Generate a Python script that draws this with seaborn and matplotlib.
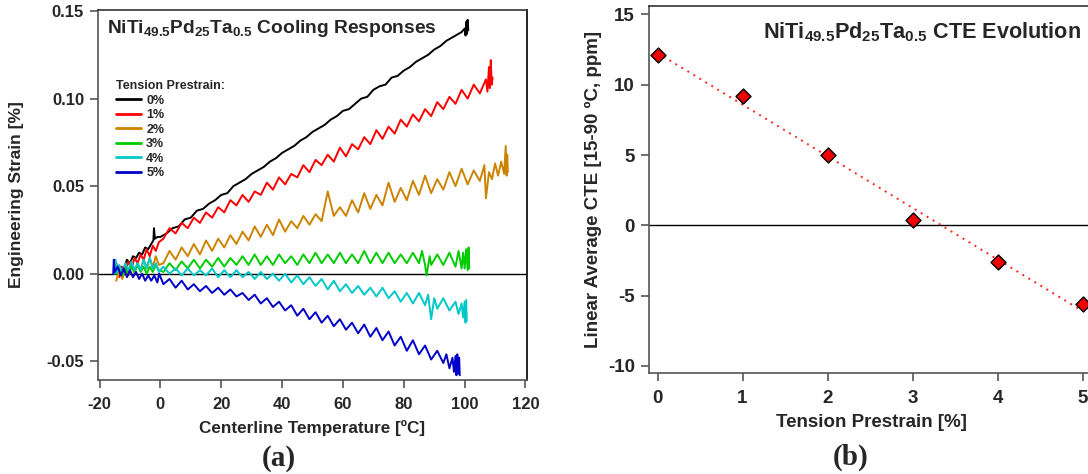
import numpy as np
import pandas as pd
import matplotlib
matplotlib.use("Agg")
import matplotlib.pyplot as plt
import seaborn as sns

# ---------------- data: panel (a) ----------------
prestrain_labels = ["0%", "1%", "2%", "3%", "4%", "5%"]
line_colors = ["#000000", "#ff0000", "#cc8400", "#00cc00", "#00c8c8", "#0000c8"]

t_0 = [-15, -14.5, -14, -13, -12, -11, -10, -9, -8, -7, -6, -5, -4, -3, -2.3, -2.1, -1.8, -1,
       0, 2, 4, 6, 8, 10, 12, 14, 16, 18, 20, 22, 24, 26, 28, 30, 32, 34, 36, 38, 40, 42, 44, 46,
       48, 50, 52, 54, 56, 58, 60, 62, 64, 66, 68, 70, 72, 74, 76, 78, 80, 82, 84, 86, 88, 90, 92,
       94, 96, 98, 99, 100, 100.3, 100.6, 100.8, 101, 101.2]
s_0 = [0.000, 0.006, 0.001, 0.004, 0.003, 0.008, 0.006, 0.010, 0.009, 0.012, 0.011, 0.015, 0.014,
       0.017, 0.019, 0.026, 0.020, 0.021,
       0.021, 0.023, 0.026, 0.027, 0.031, 0.032, 0.036, 0.037, 0.040, 0.042, 0.045, 0.046, 0.050,
       0.052, 0.054, 0.057, 0.059, 0.061, 0.064, 0.066, 0.069, 0.071, 0.073, 0.076, 0.078, 0.081,
       0.083, 0.085, 0.088, 0.090, 0.093, 0.094, 0.097, 0.100, 0.101, 0.105, 0.107, 0.108, 0.112,
       0.113, 0.116, 0.118, 0.121, 0.123, 0.125, 0.128, 0.130, 0.133, 0.135, 0.137, 0.138, 0.140,
       0.136, 0.144, 0.137, 0.145, 0.139]

t_1 = [-13.5, -12.5, -11.5, -10.5, -9.5, -8.5, -7.5, -6.5, -5.5, -4.5, -3.5, -2.5, -1.5, -0.5,
       1, 3, 5, 7, 9, 11, 13, 15, 17, 19, 21, 23, 25, 27, 29, 31, 33, 35, 37, 39, 41, 43, 45, 47,
       49, 51, 53, 55, 57, 59, 61, 63, 65, 67, 69, 71, 73, 75, 77, 79, 81, 83, 85, 87, 89, 91, 93,
       95, 97, 99, 101, 103, 105, 107, 107.5, 108, 108.3, 108.6, 108.9, 109.2]
s_1 = [-0.002, 0.004, 0.001, 0.007, 0.003, 0.009, 0.006, 0.011, 0.008, 0.014, 0.010, 0.016, 0.013,
       0.018,
       0.020, 0.026, 0.023, 0.029, 0.026, 0.032, 0.029, 0.035, 0.032, 0.038, 0.035, 0.042, 0.039,
       0.045, 0.041, 0.047, 0.045, 0.052, 0.048, 0.055, 0.051, 0.057, 0.055, 0.062, 0.058, 0.065,
       0.062, 0.068, 0.064, 0.072, 0.067, 0.074, 0.071, 0.078, 0.074, 0.082, 0.077, 0.084, 0.080,
       0.088, 0.084, 0.091, 0.087, 0.094, 0.090, 0.098, 0.094, 0.101, 0.097, 0.105, 0.100, 0.108,
       0.103, 0.111, 0.104, 0.118, 0.106, 0.122, 0.108, 0.112]

t_2 = [-14.5, -13.5, -12.5, -11.5, -10.5, -9.5, -8.5, -7.5, -6.5, -5.5, -4.5, -3.5, -2.5, -1.5, -0.5,
       1, 3, 5, 7, 9, 11, 13, 15, 17, 19, 21, 23, 25, 27, 29, 31, 33, 35, 37, 39, 41, 43, 45, 47,
       49, 51, 53, 55, 57, 59, 61, 63, 65, 67, 69, 71, 73, 75, 77, 79, 81, 83, 85, 87, 89, 91, 93,
       95, 97, 99, 101, 103, 105, 106.5, 107, 108, 109, 110, 111, 112, 113, 113.5, 113.8, 114, 114.2]
s_2 = [-0.004, 0.002, -0.003, 0.003, -0.001, 0.005, 0.000, 0.006, 0.002, 0.008, 0.003, 0.009, 0.004,
       0.010, 0.005,
       0.006, 0.013, 0.008, 0.015, 0.010, 0.017, 0.011, 0.019, 0.013, 0.020, 0.015, 0.022, 0.017,
       0.024, 0.019, 0.027, 0.021, 0.028, 0.022, 0.031, 0.024, 0.030, 0.026, 0.033, 0.028, 0.034,
       0.030, 0.047, 0.033, 0.038, 0.033, 0.042, 0.035, 0.046, 0.037, 0.045, 0.039, 0.052, 0.041,
       0.049, 0.042, 0.053, 0.045, 0.056, 0.046, 0.054, 0.048, 0.058, 0.050, 0.060, 0.051, 0.059,
       0.053, 0.062, 0.043, 0.058, 0.054, 0.063, 0.056, 0.064, 0.057, 0.073, 0.056, 0.068, 0.058]

t_3 = [-14.5, -13.5, -12.5, -11.5, -10.5, -9.5, -8.5, -7.5, -6.5, -5.5, -4.5, -3.5, -2.5, -1.5, -0.5,
       1, 3, 5, 7, 9, 11, 13, 15, 17, 19, 21, 23, 25, 27, 29, 31, 33, 35, 37, 39, 41, 43, 45, 47,
       49, 51, 53, 55, 57, 59, 61, 63, 65, 67, 69, 71, 73, 75, 77, 79, 81, 83, 85, 86, 87, 87.5,
       88.5, 89, 91, 93, 95, 97, 98, 99, 99.5, 100, 100.5, 101, 101.3, 101.5]
s_3 = [0.000, 0.004, -0.001, 0.003, 0.000, 0.004, 0.001, 0.005, 0.001, 0.004, 0.000, 0.004, 0.001,
       0.005, 0.002,
       0.001, 0.006, 0.002, 0.007, 0.003, 0.008, 0.003, 0.008, 0.004, 0.009, 0.004, 0.009, 0.005,
       0.010, 0.005, 0.011, 0.005, 0.010, 0.005, 0.011, 0.006, 0.010, 0.005, 0.011, 0.006, 0.012,
       0.006, 0.011, 0.006, 0.012, 0.006, 0.011, 0.006, 0.013, 0.006, 0.012, 0.006, 0.012, 0.006,
       0.011, 0.006, 0.012, 0.006, 0.013, 0.005, -0.001, 0.010, 0.005, 0.011, 0.005, 0.012, 0.004,
       0.013, 0.003, 0.012, 0.003, 0.014, 0.002, 0.015, 0.003]

t_4 = [-15, -14.7, -14.3, -13.5, -12.5, -11.5, -10.5, -9.5, -8.5, -7.5, -6.5, -5.5, -4.5, -3.5, -2.5,
       -1.5, -0.5, 1, 3, 5, 7, 9, 11, 13, 15, 17, 19, 21, 23, 25, 27, 29, 31, 33, 35, 37, 39, 41,
       43, 45, 47, 49, 51, 53, 55, 57, 59, 61, 63, 65, 67, 69, 71, 73, 75, 77, 79, 81, 83, 85, 87,
       88, 89, 90, 91, 93, 95, 97, 98, 99, 99.5, 100, 100.3, 100.5, 100.7]
s_4 = [0.000, 0.008, 0.001, 0.005, 0.001, 0.006, 0.002, 0.007, 0.002, 0.006, 0.002, 0.008, 0.003,
       0.009, 0.003, 0.006, 0.001,
       0.004, 0.000, 0.003, -0.001, 0.003, -0.001, 0.002, -0.001, 0.003, -0.002, 0.002, -0.002,
       0.002, -0.002, 0.001, -0.003, 0.001, -0.003, 0.000, -0.004, 0.000, -0.005, -0.001, -0.006,
       -0.002, -0.007, -0.003, -0.009, -0.004, -0.010, -0.006, -0.011, -0.007, -0.012, -0.008,
       -0.013, -0.008, -0.014, -0.010, -0.016, -0.011, -0.017, -0.011, -0.018, -0.012, -0.026,
       -0.014, -0.020, -0.014, -0.021, -0.016, -0.023, -0.017, -0.025, -0.016, -0.028, -0.015, -0.027]

t_5 = [-15.5, -15.3, -15, -14, -13, -12, -11, -10, -9, -8, -7, -6, -5, -4, -3, -2, -1, -0.4,
       1, 3, 5, 7, 9, 11, 13, 15, 17, 19, 21, 23, 25, 27, 29, 31, 33, 35, 37, 39, 41, 43, 45, 47,
       49, 51, 53, 55, 57, 59, 61, 63, 65, 67, 69, 71, 73, 75, 77, 79, 81, 83, 85, 87, 89, 91, 93,
       94, 95, 96, 96.5, 97, 97.3, 97.6, 97.9, 98.2, 98.4]
s_5 = [0.000, 0.008, 0.001, 0.004, -0.001, 0.003, -0.002, 0.002, -0.002, 0.001, -0.003, 0.000,
       -0.004, -0.001, -0.004, -0.001, -0.005, 0.000,
       -0.006, -0.003, -0.008, -0.004, -0.009, -0.006, -0.010, -0.007, -0.011, -0.008, -0.012,
       -0.009, -0.013, -0.011, -0.015, -0.012, -0.017, -0.014, -0.019, -0.016, -0.021, -0.018,
       -0.024, -0.020, -0.026, -0.022, -0.028, -0.024, -0.030, -0.026, -0.032, -0.028, -0.034,
       -0.029, -0.036, -0.031, -0.038, -0.033, -0.041, -0.036, -0.044, -0.038, -0.046, -0.041,
       -0.049, -0.044, -0.051, -0.046, -0.054, -0.048, -0.056, -0.047, -0.058, -0.046, -0.057,
       -0.048, -0.058]

temps = [t_0, t_1, t_2, t_3, t_4, t_5]
strains = [s_0, s_1, s_2, s_3, s_4, s_5]

# ---------------- data: panel (b) ----------------
tension_prestrain = [0, 1, 2, 3, 4, 5]
cte_values = [12.1, 9.2, 5.0, 0.4, -2.6, -5.6]

# ---------------- styling ----------------
sns.set_theme(style="ticks")
plt.rcParams["font.family"] = ["Liberation Sans", "DejaVu Sans"]
plt.rcParams["font.weight"] = "bold"
plt.rcParams["axes.labelweight"] = "bold"
plt.rcParams["axes.unicode_minus"] = False
plt.rcParams["mathtext.fontset"] = "custom"
plt.rcParams["mathtext.bf"] = "Liberation Sans:bold"
plt.rcParams["mathtext.rm"] = "Liberation Sans:bold"

frames = []
for lab, t, s in zip(prestrain_labels, temps, strains):
    frames.append(pd.DataFrame({"T": t, "strain": s, "prestrain": lab}))
df = pd.concat(frames, ignore_index=True)

fig = plt.figure(figsize=(10.88, 4.74), dpi=100)
W, H = 1088, 474

def px_axes(l, t, r, b):
    return fig.add_axes([l / W, 1 - b / H, (r - l) / W, (b - t) / H])

spine_col = "#555555"

# ----- panel (a)
axa = px_axes(98, 10, 527, 380)
sns.lineplot(data=df, x="T", y="strain", hue="prestrain", palette=line_colors,
             hue_order=prestrain_labels, sort=False, estimator=None, units="prestrain",
             lw=1.4, ax=axa, legend=True)
axa.axhline(0, color="black", lw=1.0, zorder=0)
axa.set_xlim(-20.5, 120.5)
axa.set_ylim(-0.0607, 0.1506)
axa.set_xticks([-20, 0, 20, 40, 60, 80, 100, 120])
axa.set_yticks([-0.05, 0.00, 0.05, 0.10, 0.15])
axa.set_yticklabels(["-0.05", "0.00", "0.05", "0.10", "0.15"])
axa.set_xlabel("Centerline Temperature [ºC]", fontsize=12.3, fontweight="bold")
axa.set_ylabel("Engineering Strain [%]", fontsize=12.5, fontweight="bold")
axa.xaxis.set_label_coords(0.5, -0.108)
axa.yaxis.set_label_coords(-0.172, 0.5)
axa.text(0.022, 0.978, r"NiTi$_{\mathbf{49.5}}$Pd$_{\mathbf{25}}$Ta$_{\mathbf{0.5}}$ Cooling Responses",
         transform=axa.transAxes, fontsize=13.8, fontweight="bold", va="top", ha="left")
handles, labels = axa.get_legend_handles_labels()
for h in handles:
    h.set_linewidth(2.0)
leg = axa.legend(handles, labels, title="Tension Prestrain:", loc="upper left",
                 bbox_to_anchor=(0.041, 0.81), frameon=False, fontsize=9,
                 title_fontproperties={"weight": "bold", "size": 9}, alignment="left",
                 handlelength=2.0, handletextpad=0.45, labelspacing=0.2, borderpad=0.0,
                 borderaxespad=0.0)
for t in leg.get_texts():
    t.set_fontweight("bold")

# ----- panel (b)
axb = px_axes(649, 6, 1094, 373)
sns.regplot(x=tension_prestrain, y=cte_values, ci=None, marker="D", ax=axb,
            scatter_kws={"s": 58, "color": "#ee0000", "edgecolors": "black", "linewidths": 1.0,
                         "zorder": 3, "alpha": 1},
            line_kws={"color": "#ff2020", "ls": (0, (1, 2.6)), "lw": 1.4, "zorder": 2})
axb.axhline(0, color="black", lw=1.0, zorder=0)
axb.set_xlim(-0.1, 5.135)
axb.set_ylim(-10.5, 15.6)
axb.set_xticks([0, 1, 2, 3, 4, 5])
axb.set_yticks([-10, -5, 0, 5, 10, 15])
axb.set_xlabel("Tension Prestrain [%]", fontsize=13.5, fontweight="bold")
axb.set_ylabel("Linear Average CTE [15-90 ºC, ppm]", fontsize=13.5, fontweight="bold")
axb.xaxis.set_label_coords((871.5 - 649) / 445, -0.112)
axb.yaxis.set_label_coords(-0.105, 0.5)
axb.text(0.256, 0.96, r"NiTi$_{\mathbf{49.5}}$Pd$_{\mathbf{25}}$Ta$_{\mathbf{0.5}}$ CTE Evolution",
         transform=axb.transAxes, fontsize=15.6, fontweight="bold", va="top", ha="left")

for ax, fs, pd_ in ((axa, 12, 6), (axb, 13.5, 6)):
    for side in ("top", "right"):
        ax.spines[side].set_visible(True)
    for sp in ax.spines.values():
        sp.set_color(spine_col)
        sp.set_linewidth(1.2)
    ax.tick_params(axis="both", which="major", direction="out", length=6, width=1.2,
                   color=spine_col, labelsize=fs, top=False, right=False)
    ax.tick_params(axis="x", pad=pd_)
    ax.tick_params(axis="y", pad=4)
    for lbl in ax.get_xticklabels() + ax.get_yticklabels():
        lbl.set_fontweight("bold")
axa.spines["right"].set_color("black")
axa.spines["top"].set_color("#333333")
axb.spines["top"].set_color("#333333")

fig.text(278.6 / W, 1 - 458 / H, "(a)", fontsize=21, fontweight="bold",
         family=["Liberation Serif", "DejaVu Serif"], ha="center", va="center")
fig.text(850.7 / W, 1 - 457 / H, "(b)", fontsize=21, fontweight="bold",
         family=["Liberation Serif", "DejaVu Serif"], ha="center", va="center")

fig.savefig("out.png", dpi=100)
